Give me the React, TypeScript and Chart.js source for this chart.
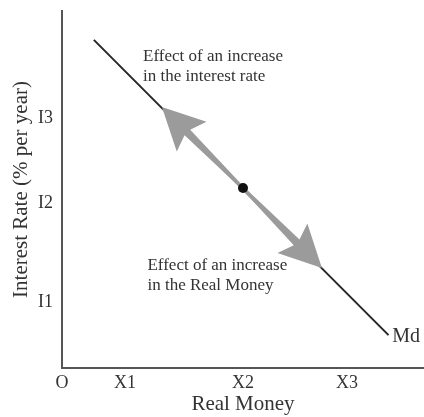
import { useEffect, useRef } from "react";
import { Chart, registerables } from "chart.js";

Chart.register(...registerables);

// ---- data (chart units: both axes run 0..10) ----
const xTickValues = [0, 1.74, 5.0, 7.87];
const xTickLabels = ["O", "X1", "X2", "X3"];
const yTickValues = [1.85, 4.62, 7.0];
const yTickLabels = ["I1", "I2", "I3"];

const mdCurveX = [0.88, 9.02];
const mdCurveY = [9.19, 0.92];

const equilibriumX = [5.0];
const equilibriumY = [5.04];

const rateArrowX = [5.0, 2.76];
const rateArrowY = [5.04, 7.31];
const moneyArrowX = [5.0, 7.18];
const moneyArrowY = [5.04, 2.8];

const rateNoteLines = ["Effect of an increase", "in the interest rate"];
const rateNoteAnchor = [2.24, 8.72];
const moneyNoteLines = ["Effect of an increase", "in the Real Money"];
const moneyNoteAnchor = [2.36, 2.88];
const curveLabel = "Md";
const curveLabelAnchor = [9.12, 0.87];

const SERIF = "'Liberation Serif', 'Times New Roman', serif";
const TEXT = "#333333";

const arrowPlugin = {
  id: "arrowsAndNotes",
  afterDatasetDraw(chart: any, args: any) {
    if (args.index !== 1) return;
    const { ctx } = chart;
    const xs = chart.scales.x;
    const ys = chart.scales.y;
    ctx.save();
    for (const [ax, ay] of [
      [rateArrowX, rateArrowY],
      [moneyArrowX, moneyArrowY],
    ]) {
      const sx = xs.getPixelForValue(ax[0]);
      const sy = ys.getPixelForValue(ay[0]);
      const tx = xs.getPixelForValue(ax[1]);
      const ty = ys.getPixelForValue(ay[1]);
      const dx = tx - sx;
      const dy = ty - sy;
      const len = Math.hypot(dx, dy);
      const ux = dx / len;
      const uy = dy / len;
      const nx = -uy;
      const ny = ux;
      const headLen = 42;
      const headHalf = 21;
      const notch = 6;
      const w0 = 1.5;
      const w1 = 4;
      const bx = tx - ux * headLen;
      const by = ty - uy * headLen;
      const jx = bx + ux * notch;
      const jy = by + uy * notch;
      ctx.beginPath();
      ctx.moveTo(sx + nx * w0, sy + ny * w0);
      ctx.lineTo(jx + nx * w1, jy + ny * w1);
      ctx.lineTo(bx + nx * headHalf, by + ny * headHalf);
      ctx.lineTo(tx, ty);
      ctx.lineTo(bx - nx * headHalf, by - ny * headHalf);
      ctx.lineTo(jx - nx * w1, jy - ny * w1);
      ctx.lineTo(sx - nx * w0, sy - ny * w0);
      ctx.closePath();
      ctx.fillStyle = "#9b9b9b";
      ctx.fill();
    }
    ctx.restore();
  },
  afterDatasetsDraw(chart: any) {
    const { ctx } = chart;
    const xs = chart.scales.x;
    const ys = chart.scales.y;
    ctx.save();
    ctx.fillStyle = TEXT;
    ctx.textAlign = "left";
    ctx.textBaseline = "middle";
    ctx.font = `17px ${SERIF}`;
    const drawLines = (lines: string[], anchor: number[]) => {
      const x = xs.getPixelForValue(anchor[0]);
      const y = ys.getPixelForValue(anchor[1]);
      lines.forEach((t, i) => ctx.fillText(t, x, y + i * 20));
    };
    drawLines(rateNoteLines, rateNoteAnchor);
    drawLines(moneyNoteLines, moneyNoteAnchor);
    ctx.font = `20px ${SERIF}`;
    ctx.fillText(
      curveLabel,
      xs.getPixelForValue(curveLabelAnchor[0]),
      ys.getPixelForValue(curveLabelAnchor[1])
    );
    ctx.restore();
  },
};

export default function App() {
  const ref = useRef<HTMLCanvasElement | null>(null);

  useEffect(() => {
    document.body.style.margin = "0";
    const canvas = ref.current;
    if (!canvas) return;
    const chart = new Chart(canvas, {
      type: "scatter",
      data: {
        datasets: [
          {
            label: "Equilibrium",
            data: equilibriumX.map((x, i) => ({ x, y: equilibriumY[i] })),
            pointRadius: 5,
            pointBackgroundColor: "#111111",
            pointBorderColor: "#111111",
            pointBorderWidth: 0,
            showLine: false,
          },
          {
            label: "Md",
            data: mdCurveX.map((x, i) => ({ x, y: mdCurveY[i] })),
            showLine: true,
            borderColor: "#262626",
            borderWidth: 2,
            pointRadius: 0,
            fill: false,
          },
        ],
      },
      options: {
        responsive: false,
        animation: false,
        events: [],
        layout: { autoPadding: false, padding: { top: 11, left: 0, right: 0, bottom: 0 } },
        plugins: {
          legend: { display: false },
          tooltip: { enabled: false },
        },
        scales: {
          x: {
            type: "linear",
            min: 0,
            max: 10,
            afterBuildTicks: (s: any) => {
              s.ticks = xTickValues.map((v) => ({ value: v }));
            },
            afterFit: (s: any) => {
              s.height = 49;
              s.paddingLeft = 0;
              s.paddingRight = 0;
            },
            ticks: {
              autoSkip: false,
              maxRotation: 0,
              padding: 4,
              color: TEXT,
              font: { family: SERIF, size: 18 },
              callback: (v: any) => xTickLabels[xTickValues.indexOf(Number(v))] ?? "",
            },
            grid: { display: false, drawTicks: false },
            border: { display: true, color: "#555555", width: 2 },
            title: {
              display: true,
              text: "Real Money",
              color: TEXT,
              font: { family: SERIF, size: 21 },
              padding: { top: 0, bottom: 0 },
            },
          },
          y: {
            type: "linear",
            min: 0,
            max: 10,
            afterBuildTicks: (s: any) => {
              s.ticks = yTickValues.map((v) => ({ value: v }));
            },
            afterFit: (s: any) => {
              s.width = 62;
              s.paddingTop = 0;
              s.paddingBottom = 0;
            },
            ticks: {
              autoSkip: false,
              padding: 9,
              color: TEXT,
              font: { family: SERIF, size: 18 },
              callback: (v: any) => yTickLabels[yTickValues.indexOf(Number(v))] ?? "",
            },
            grid: { display: false, drawTicks: false },
            border: { display: true, color: "#555555", width: 2 },
            title: {
              display: true,
              text: "Interest Rate (% per year)",
              color: TEXT,
              font: { family: SERIF, size: 21 },
              padding: { top: 9, bottom: 0 },
            },
          },
        },
      },
      plugins: [arrowPlugin],
    } as any);
    return () => chart.destroy();
  }, []);

  return (
    <div style={{ position: "fixed", left: 0, top: 0, width: 424, height: 417, background: "#ffffff" }}>
      <canvas ref={ref} width={424} height={417} style={{ display: "block" }} />
    </div>
  );
}
